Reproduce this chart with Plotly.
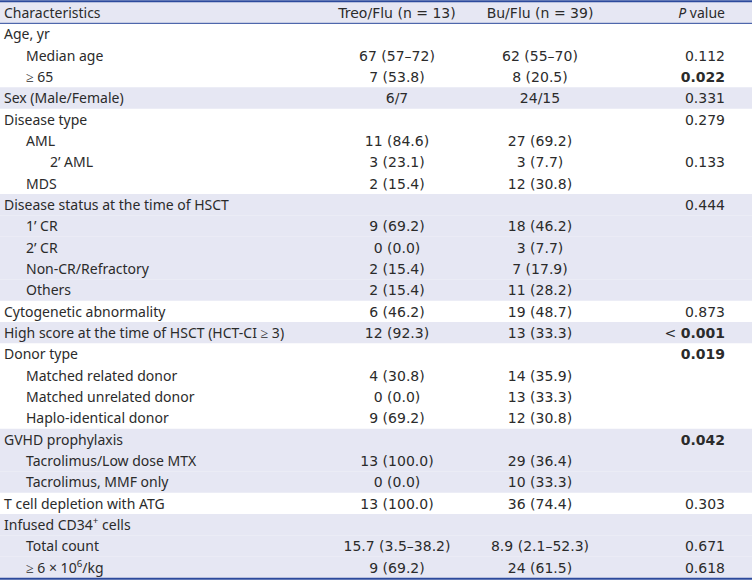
import plotly.graph_objects as go

# table content
headers = ["Characteristics", "Treo/Flu (n = 13)", "Bu/Flu (n = 39)", "<i>P</i> value"]

characteristics = [
    "Age, yr", "Median age", "≥ 65",
    "Sex (Male/Female)",
    "Disease type", "AML", "2’ AML", "MDS",
    "Disease status at the time of HSCT", "1’ CR", "2’ CR", "Non-CR/Refractory", "Others",
    "Cytogenetic abnormality",
    "High score at the time of HSCT (HCT-CI ≥ 3)",
    "Donor type", "Matched related donor", "Matched unrelated donor", "Haplo-identical donor",
    "GVHD prophylaxis", "Tacrolimus/Low dose MTX", "Tacrolimus, MMF only",
    "T cell depletion with ATG",
    "Infused CD34<sup>+</sup> cells", "Total count", "≥ 6 × 10<sup>6</sup>/kg",
]
levels = [0, 1, 1, 0, 0, 1, 2, 1, 0, 1, 1, 1, 1, 0, 0, 0, 1, 1, 1, 0, 1, 1, 0, 0, 1, 1]

treo_flu = [
    "", "67 (57–72)", "7 (53.8)",
    "6/7",
    "", "11 (84.6)", "3 (23.1)", "2 (15.4)",
    "", "9 (69.2)", "0 (0.0)", "2 (15.4)", "2 (15.4)",
    "6 (46.2)",
    "12 (92.3)",
    "", "4 (30.8)", "0 (0.0)", "9 (69.2)",
    "", "13 (100.0)", "0 (0.0)",
    "13 (100.0)",
    "", "15.7 (3.5–38.2)", "9 (69.2)",
]
bu_flu = [
    "", "62 (55–70)", "8 (20.5)",
    "24/15",
    "", "27 (69.2)", "3 (7.7)", "12 (30.8)",
    "", "18 (46.2)", "3 (7.7)", "7 (17.9)", "11 (28.2)",
    "19 (48.7)",
    "13 (33.3)",
    "", "14 (35.9)", "13 (33.3)", "12 (30.8)",
    "", "29 (36.4)", "10 (33.3)",
    "36 (74.4)",
    "", "8.9 (2.1–52.3)", "24 (61.5)",
]
p_values = [
    "", "0.112", "0.022",
    "0.331",
    "0.279", "", "0.133", "",
    "0.444", "", "", "", "",
    "0.873",
    "< 0.001",
    "0.019", "", "", "",
    "0.042", "", "",
    "0.303",
    "", "0.671", "0.618",
]

SHADE = "#e6e7f3"
BLUE = "#2c4a9c"
TEXT = "#2b2b2b"
LABEL_FAMILY = "Noto Sans"
NUM_FAMILY = "DejaVu Sans"
LABEL_FONT = dict(family=LABEL_FAMILY, size=14, color=TEXT)
NUM_FONT = dict(family=NUM_FAMILY, size=14, color=TEXT)

# column anchors (x in pixels across the 752 px width)
X_LEVEL = {0: 4, 1: 26, 2: 50}
X_TREO, X_BU, X_P = 397, 540, 725
TEXT_DY = 0.09  # nudge text a touch lower inside each row


def pval_text(p):
    if not p:
        return ""
    num = float(p.replace("<", "").strip())
    if num < 0.05:
        if p.startswith("<"):
            return "< <b>" + p.replace("<", "").strip() + "</b>"
        return "<b>" + p + "</b>"
    return p


def text_trace(xs, ys, texts, position, font):
    keep = [i for i, t in enumerate(texts) if t]
    return go.Scatter(
        x=[xs[i] for i in keep], y=[ys[i] + TEXT_DY for i in keep], mode="text",
        text=[texts[i] for i in keep], textposition=position, textfont=font,
        cliponaxis=False, hoverinfo="skip",
    )


rows = list(range(1, len(characteristics) + 1))
n = len(rows)

# shading alternates per top-level group, header shaded, first group white
shaded_rows = [0]
shade = True
for r, lv in zip(rows, levels):
    if lv == 0:
        shade = not shade
    if shade:
        shaded_rows.append(r)

fig = go.Figure()

fig.add_trace(go.Bar(
    y=shaded_rows, x=[752] * len(shaded_rows), orientation="h", width=1,
    marker=dict(color=SHADE, line=dict(width=0)), hoverinfo="skip",
))

# header row
fig.add_trace(go.Scatter(
    x=[X_LEVEL[0], X_TREO, X_BU, X_P], y=[TEXT_DY] * 4, mode="text", text=headers,
    textposition=["middle right", "middle center", "middle center", "middle left"],
    textfont=dict(family=[LABEL_FAMILY, NUM_FAMILY, NUM_FAMILY, LABEL_FAMILY], size=14, color=TEXT),
    cliponaxis=False, hoverinfo="skip",
))

fig.add_trace(text_trace([X_LEVEL[lv] for lv in levels], rows, characteristics, "middle right", LABEL_FONT))
fig.add_trace(text_trace([X_TREO] * n, rows, treo_flu, "middle center", NUM_FONT))
fig.add_trace(text_trace([X_BU] * n, rows, bu_flu, "middle center", NUM_FONT))
fig.add_trace(text_trace([X_P] * n, rows, [pval_text(p) for p in p_values], "middle left", NUM_FONT))

fig.update_layout(
    width=752, height=580,
    margin=dict(l=0, r=0, t=2, b=2),
    paper_bgcolor="white", plot_bgcolor="white",
    showlegend=False, hovermode=False,
    xaxis=dict(range=[0, 752], visible=False, fixedrange=True),
    yaxis=dict(range=[n + 0.5, -0.5], visible=False, fixedrange=True),
    shapes=[
        dict(type="line", xref="paper", yref="paper", x0=0, x1=1, y0=1.0015, y1=1.0015,
             line=dict(color=BLUE, width=2)),
        dict(type="line", xref="paper", yref="y", x0=0, x1=1, y0=0.5, y1=0.5,
             line=dict(color=BLUE, width=1)),
        dict(type="line", xref="paper", yref="paper", x0=0, x1=1, y0=-0.0015, y1=-0.0015,
             line=dict(color=BLUE, width=2)),
    ],
)

fig.write_html("out.html", config={"displayModeBar": False},
               post_script="document.body.style.margin='0';")
